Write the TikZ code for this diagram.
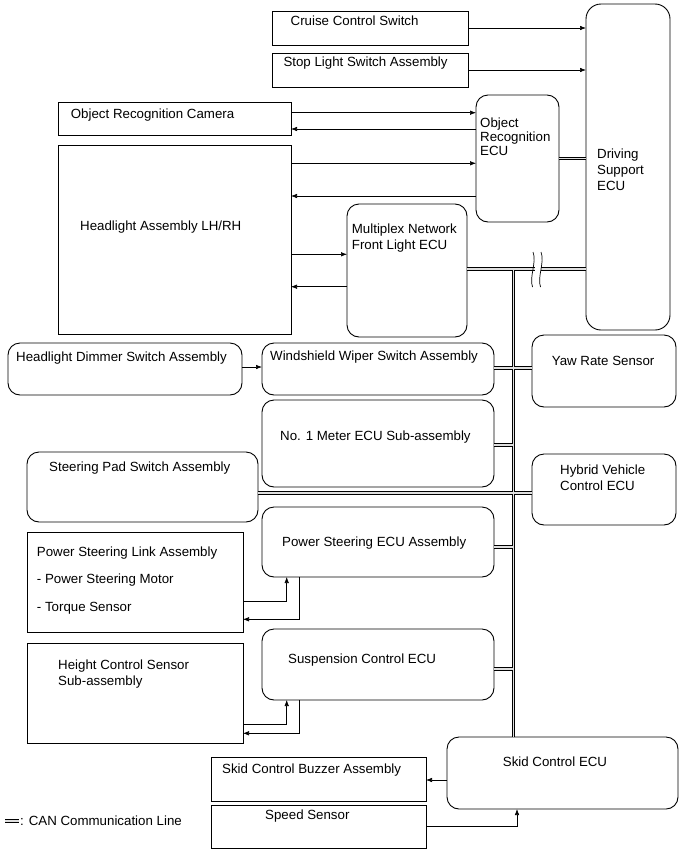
\documentclass[tikz,border=0pt]{standalone}
\usepackage{fontspec}
\setmainfont{Liberation Sans}
\usetikzlibrary{arrows.meta,calc}
\newcommand\canall[1]{%
  \draw[#1] (or.east) -- (or.east -| ds.west);
  \draw[#1] (mpx.east |- 0,269) -- (ds.west |- 0,269);
  \draw[#1] (bt) -- (bt |- skid.north);
  \draw[#1] (wip.east |- 0,368) -- (yaw.west |- 0,368);
  \draw[#1] (met.east |- 0,445) -- (bt |- 0,445);
  \draw[#1] (pad.east |- 0,493) -- (hyb.west |- 0,493);
  \draw[#1] (ps.east |- 0,547) -- (bt |- 0,547);
  \draw[#1] (sus.east |- 0,669) -- (bt |- 0,669);
  \draw[#1] (lg1) -- (lg2);
}
\begin{document}
\begin{tikzpicture}[x=1pt,y=-1pt,
  box/.style={draw, line width=0.9pt, inner sep=0pt, outer sep=0pt, anchor=north west},
  rbox/.style={box, rounded corners=12pt},
  txt/.style={anchor=west, inner sep=0pt, font=\fontsize{13.3}{16}\selectfont, align=left},
  arr/.style={line width=0.6pt, -{Latex[length=6pt,width=4.5pt]}},
  canout/.style={line width=3.8pt, black},
  canin/.style={line width=1.9pt, gray!25},
]
\useasboundingbox (0,0) rectangle (690,854);
% boxes
\node[box, minimum width=196pt, minimum height=34pt] (cruise) at (272,11) {};
\node[box, minimum width=196pt, minimum height=34pt] (stop) at (272,53) {};
\node[rbox, rounded corners=15pt, minimum width=84pt, minimum height=326pt] (ds) at (586,4) {};
\node[box, minimum width=233pt, minimum height=33pt] (cam) at (58,102) {};
\node[box, minimum width=233pt, minimum height=189pt] (head) at (58,145) {};
\node[rbox, minimum width=83pt, minimum height=127pt] (or) at (476,95) {};
\node[rbox, minimum width=120pt, minimum height=133pt] (mpx) at (347,204) {};
\node[rbox, minimum width=234pt, minimum height=52pt] (dim) at (8,343) {};
\node[rbox, minimum width=232pt, minimum height=52pt] (wip) at (262,343) {};
\node[rbox, minimum width=144pt, minimum height=72pt] (yaw) at (532,335) {};
\node[rbox, minimum width=232pt, minimum height=87pt] (met) at (262,400) {};
\node[rbox, minimum width=231pt, minimum height=70pt] (pad) at (27,452) {};
\node[rbox, minimum width=144pt, minimum height=71pt] (hyb) at (532,454) {};
\node[rbox, minimum width=232pt, minimum height=70pt] (ps) at (262,507) {};
\node[box, minimum width=216pt, minimum height=100pt] (psl) at (27,532) {};
\node[rbox, minimum width=232pt, minimum height=71pt] (sus) at (262,629) {};
\node[box, minimum width=216pt, minimum height=100pt] (hcs) at (27,643) {};
\node[rbox, minimum width=231pt, minimum height=72pt] (skid) at (447,737) {};
\node[box, minimum width=215pt, minimum height=44pt] (buz) at (211,757) {};
\node[box, minimum width=215pt, minimum height=43pt] (spd) at (211,805) {};
% texts
\node[txt] (tcruise) at (290.5,20.5) {Cruise Control Switch};
\node[txt] (tstop) at (283.3,63.3) {Stop Light Switch Assembly};
\node[txt] (tcam) at (70.7,115) {Object Recognition Camera};
\node[txt, font=\fontsize{13.3}{14.3}\selectfont] (tor) at (480,136.6) {Object\\Recognition\\ECU};
\node[txt] (thead) at (80,226.7) {Headlight Assembly LH/RH};
\node[txt] (tmpx) at (351.7,238) {Multiplex Network\\Front Light ECU};
\node[txt] (tds) at (597,170) {Driving\\Support\\ECU};
\node[txt] (tdim) at (16,358) {Headlight Dimmer Switch Assembly};
\node[txt] (twip) at (270,357) {Windshield Wiper Switch Assembly};
\node[txt] (tyaw) at (551.7,360.7) {Yaw Rate Sensor};
\node[txt] (tmet) at (280,437) {No. 1 Meter ECU Sub-assembly};
\node[txt] (tpad) at (49,468) {Steering Pad Switch Assembly};
\node[txt] (thyb) at (560,477.5) {Hybrid Vehicle\\Control ECU};
\node[txt] (tps) at (282,543) {Power Steering ECU Assembly};
\node[txt, font=\fontsize{13.3}{27.2}\selectfont] (tpsl) at (36.7,580.5) {Power Steering Link Assembly\\- Power Steering Motor\\- Torque Sensor};
\node[txt] (tsus) at (288,660) {Suspension Control ECU};
\node[txt] (thcs) at (58,674) {Height Control Sensor\\Sub-assembly};
\node[txt] (tskid) at (502.7,761.7) {Skid Control ECU};
\node[txt] (tbuz) at (222,770) {Skid Control Buzzer Assembly};
\node[txt] (tspd) at (265,816) {Speed Sensor};
\node[txt] (tlg) at (20,821) {: CAN Communication Line};
% CAN lines
\coordinate (bt) at (513.5,269);
\coordinate (lg1) at (5,821);
\coordinate (lg2) at (19,821);
\canall{canout}
\canall{canin}
% break mark
\fill[white] (535.3,264) rectangle (540.5,274);
\draw[line width=0.7pt] (533,252) .. controls (537,262) and (529,277) .. (532.5,287);
\draw[line width=0.7pt] (541,252) .. controls (545,262) and (537,277) .. (540.5,287);
% single arrows
\draw[arr] (cruise.east) -- (cruise.east -| ds.west);
\draw[arr] (stop.east) -- (stop.east -| ds.west);
\draw[arr] (cam.east |- 0,112.7) -- (or.west |- 0,112.7);
\draw[arr] (or.west |- 0,129) -- (cam.east |- 0,129);
\draw[arr] (head.east |- 0,163.3) -- (or.west |- 0,163.3);
\draw[arr] (or.west |- 0,196) -- (head.east |- 0,196);
\draw[arr] (head.east |- 0,254.3) -- (mpx.west |- 0,254.3);
\draw[arr] (mpx.west |- 0,286.7) -- (head.east |- 0,286.7);
\draw[arr] (dim.east |- 0,367) -- (wip.west |- 0,367);
\draw[arr] (psl.east |- 0,601.7) -| ($(ps.south west)+(24.7,0)$);
\draw[arr] ($(ps.south west)+(37,0)$) |- (psl.east |- 0,619.3);
\draw[arr] (hcs.east |- 0,724) -| ($(sus.south west)+(24.7,0)$);
\draw[arr] ($(sus.south west)+(37,0)$) |- (hcs.east |- 0,733.3);
\draw[arr] (skid.west |- 0,780) -- (buz.east |- 0,780);
\draw[arr] (spd.east |- 0,826.7) -| ($(skid.south west)+(70,0)$);
\end{tikzpicture}
\end{document}
